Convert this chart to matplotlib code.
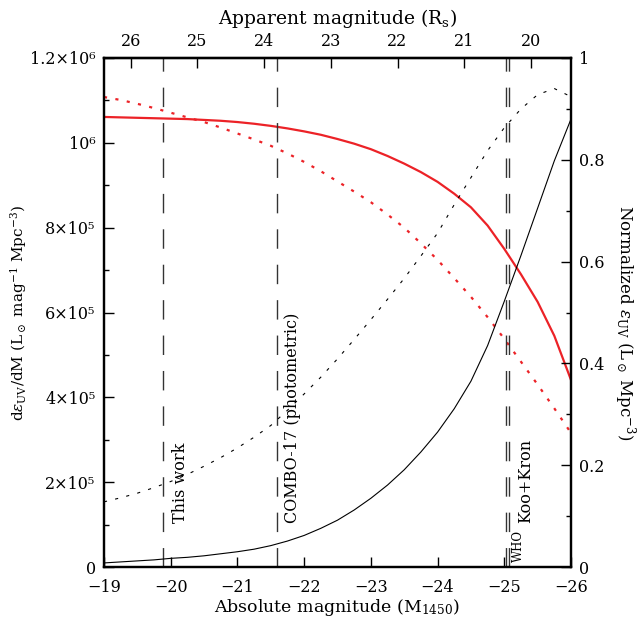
import matplotlib
matplotlib.use("Agg")
import matplotlib.pyplot as plt
from matplotlib.ticker import FixedLocator, MultipleLocator

plt.rcParams['font.family'] = ['DejaVu Serif']
plt.rcParams['mathtext.fontset'] = 'dejavuserif'
plt.rcParams['font.size'] = 11

# absolute magnitude grid
mag = [-19, -19.25, -19.5, -19.75, -20, -20.25, -20.5, -20.75, -21, -21.25,
       -21.5, -21.75, -22, -22.25, -22.5, -22.75, -23, -23.25, -23.5, -23.75,
       -24, -24.25, -24.5, -24.75, -25, -25.25, -25.5, -25.75, -26]

# d eps / dM (left axis, units of 1e6)
deps_solid = [1.061, 1.060, 1.059, 1.058, 1.057, 1.056, 1.054, 1.052, 1.049, 1.045,
              1.040, 1.034, 1.027, 1.019, 1.009, 0.998, 0.985, 0.969, 0.951, 0.931,
              0.908, 0.880, 0.848, 0.805, 0.750, 0.690, 0.625, 0.545, 0.441]
deps_dotted = [1.108, 1.101, 1.092, 1.082, 1.071, 1.060, 1.049, 1.036, 1.022, 1.008,
               0.993, 0.975, 0.955, 0.933, 0.909, 0.885, 0.860, 0.831, 0.800, 0.763,
               0.724, 0.681, 0.637, 0.589, 0.538, 0.484, 0.430, 0.374, 0.316]

# normalized cumulative emissivity (right axis)
norm_solid = [0.008, 0.010, 0.012, 0.014, 0.017, 0.019, 0.022, 0.026, 0.030, 0.035,
              0.042, 0.051, 0.062, 0.076, 0.092, 0.112, 0.135, 0.161, 0.191, 0.226,
              0.265, 0.311, 0.365, 0.435, 0.522, 0.612, 0.705, 0.798, 0.880]
norm_dotted = [0.128, 0.136, 0.145, 0.156, 0.168, 0.182, 0.198, 0.215, 0.234, 0.255,
               0.278, 0.308, 0.340, 0.373, 0.409, 0.447, 0.486, 0.526, 0.567, 0.611,
               0.656, 0.712, 0.765, 0.818, 0.863, 0.900, 0.928, 0.940, 0.924]

# survey limits
limit_mags = [-19.89, -21.59, -25.02, -25.07]
MAG_OFFSET = 45.4   # apparent R_s = M1450 + offset

bottom_ticks = [-19, -20, -21, -22, -23, -24, -25, -26]
top_ticks = [26, 25, 24, 23, 22, 21, 20]
left_ticks = [0, 2e5, 4e5, 6e5, 8e5, 1e6, 1.2e6]
left_labels = ['0', '2×10⁵', '4×10⁵', '6×10⁵', '8×10⁵', '10⁶', '1.2×10⁶']
right_ticks = [0, 0.2, 0.4, 0.6, 0.8, 1.0]
right_labels = ['0', '0.2', '0.4', '0.6', '0.8', '1']

red = '#ec2227'

fig = plt.figure(figsize=(6.37, 6.21), dpi=100)
ax = fig.add_axes([104/637, 1 - 567/621, 467/637, 509/621])
ax2 = ax.twinx()

ax.plot(mag, [v * 1e6 for v in deps_solid], color=red, lw=1.6)
ax.plot(mag, [v * 1e6 for v in deps_dotted], color=red, lw=1.6, ls=(0, (1.4, 3.8)))
ax2.plot(mag, norm_solid, color='black', lw=0.8)
ax2.plot(mag, norm_dotted, color='black', lw=0.8, ls=(0, (2.8, 7.5)))

for m in limit_mags:
    ax.axvline(m, color='#333333', lw=1.0, ls=(0, (14, 11.5)))

ax.text(-20.14, 1.04e5, 'This work', rotation=90, ha='center', va='bottom', fontsize=11.5)
ax.text(-21.83, 1.04e5, 'COMBO-17 (photometric)', rotation=90, ha='center', va='bottom', fontsize=11.5)
ax.text(-25.21, 0.12e5, 'WHO', rotation=90, ha='center', va='bottom', fontsize=8.5)
ax.text(-25.32, 1.04e5, 'Koo+Kron', rotation=90, ha='center', va='bottom', fontsize=11.5)

ax.set_xlim(-19, -26)
ax.set_ylim(0, 1.2e6)
ax2.set_ylim(0, 1)

ax.xaxis.set_major_locator(FixedLocator(bottom_ticks))
ax.set_xticklabels([f'\u2212{abs(t)}' for t in bottom_ticks])
ax.set_yticks(left_ticks)
ax.set_yticklabels(left_labels)
ax.yaxis.set_minor_locator(MultipleLocator(1e5))
ax2.set_yticks(right_ticks)
ax2.set_yticklabels(right_labels)
ax2.yaxis.set_minor_locator(MultipleLocator(0.1))

secax = ax.secondary_xaxis('top', functions=(lambda x: x + MAG_OFFSET,
                                             lambda x: x - MAG_OFFSET))
secax.set_xticks(top_ticks)
secax.set_xlabel(r'Apparent magnitude (R$_{\rm s}$)', fontsize=13.5, labelpad=6)

for a in (ax, ax2):
    a.tick_params(which='major', direction='in', length=7, width=1, labelsize=11.5, pad=6)
    a.tick_params(which='minor', direction='in', length=3.5, width=1)
    for s in a.spines.values():
        s.set_linewidth(1.6)
ax.tick_params(axis='x', pad=9)
ax.tick_params(top=False, right=False)
ax2.tick_params(top=False, bottom=False, labelbottom=False)
secax.tick_params(direction='in', length=7, width=1, labelsize=11.5, pad=6)
secax.spines['top'].set_linewidth(1.6)

ax.set_xlabel(r'Absolute magnitude (M$_{1450}$)', fontsize=12.5, labelpad=0)
ax.set_ylabel(r'd$\epsilon_{\rm UV}$/dM (L$_\odot$ mag$^{-1}$ Mpc$^{-3}$)', fontsize=11,
              va='center')
ax.yaxis.set_label_coords((19 - 104) / 467, 0.5)
ax2.set_ylabel(r'Normalized $\epsilon_{\rm UV}$ (L$_\odot$ Mpc$^{-3}$)', fontsize=12,
               rotation=270, va='center')
ax2.yaxis.set_label_coords((625 - 104) / 467, 0.48)

fig.savefig('out.png', dpi=100)
